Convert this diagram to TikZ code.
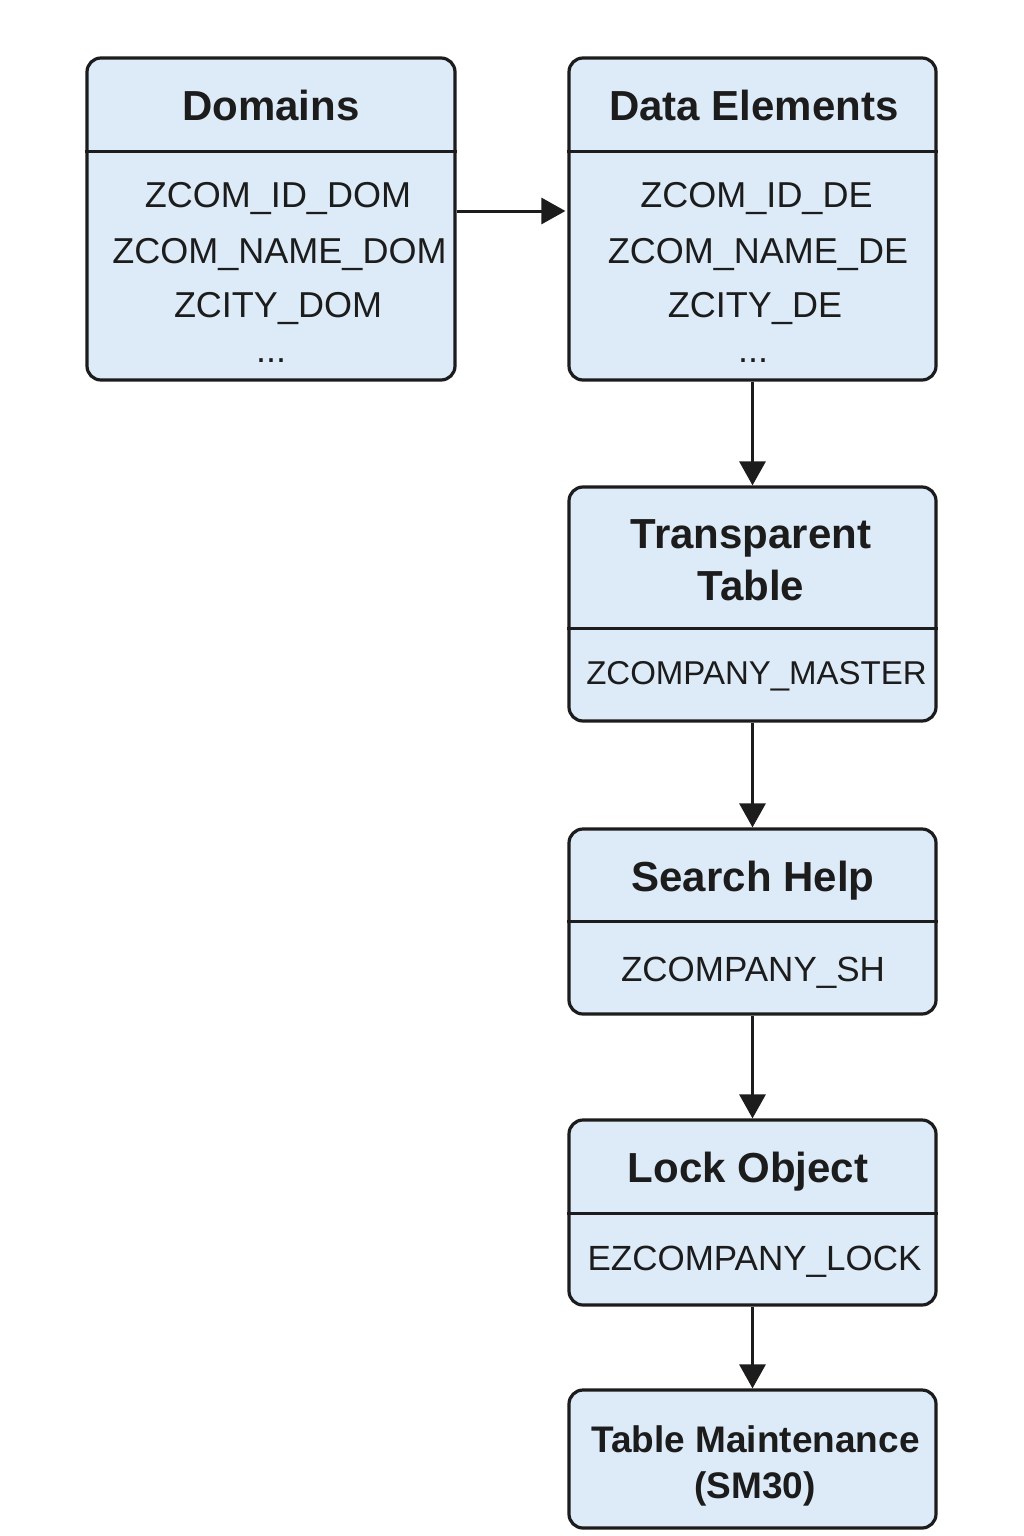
\documentclass[tikz,border=0pt]{standalone}
\usepackage{fontspec}
\setmainfont{Liberation Sans}
\usetikzlibrary{arrows.meta}
\definecolor{boxfill}{HTML}{DDEBF8}
\definecolor{ink}{HTML}{1C1C1C}
\tikzset{
  box/.style={draw=ink, fill=boxfill, line width=3.2pt, rounded corners=14pt, inner sep=0pt},
  divline/.style={draw=ink, line width=3pt},
  ttl/.style={anchor=base, inner sep=0pt, text=ink, font=\fontsize{42}{50}\selectfont\bfseries},
  ttlsm/.style={anchor=base, inner sep=0pt, text=ink, font=\fontsize{37}{44}\selectfont\bfseries},
  itm/.style={anchor=base, inner sep=0pt, text=ink, font=\fontsize{36}{43}\selectfont},
  itmsm/.style={anchor=base, inner sep=0pt, text=ink, font=\fontsize{33}{40}\selectfont},
  itmmd/.style={anchor=base, inner sep=0pt, text=ink, font=\fontsize{35}{42}\selectfont},
  arr/.style={draw=ink, line width=3pt, -{Triangle[length=24pt,width=26pt]}}
}
\begin{document}
\begin{tikzpicture}[x=1pt,y=-1pt]
\useasboundingbox[fill=white] (0,0) rectangle (1024,1536);
% boxes
\node[box, minimum width=368pt, minimum height=322pt] (dom) at (271,219) {};
\node[box, minimum width=367pt, minimum height=322pt] (de) at (752.5,219) {};
\node[box, minimum width=367pt, minimum height=234pt] (tt) at (752.5,604) {};
\node[box, minimum width=367pt, minimum height=185pt] (sh) at (752.5,921.5) {};
\node[box, minimum width=367pt, minimum height=185pt] (lo) at (752.5,1212.5) {};
\node[box, minimum width=367pt, minimum height=138pt] (tm) at (752.5,1459) {};
% dividers
\coordinate (d1) at (0,151);
\coordinate (d2) at (0,628);
\coordinate (d3) at (0,921);
\coordinate (d4) at (0,1213);
\draw[divline] (dom.west |- d1) -- (dom.east |- d1);
\draw[divline] (de.west |- d1) -- (de.east |- d1);
\draw[divline] (tt.west |- d2) -- (tt.east |- d2);
\draw[divline] (sh.west |- d3) -- (sh.east |- d3);
\draw[divline] (lo.west |- d4) -- (lo.east |- d4);
% Domains
\node[ttl] (domt) at (271,121) {Domains};
\node[itm] (dom1) at (278,207) {ZCOM\_ID\_DOM};
\node[itm] (dom2) at (279.5,263) {ZCOM\_NAME\_DOM};
\node[itm] (dom3) at (278,317) {ZCITY\_DOM};
\node[itm] (dom4) at (271,362) {...};
% Data Elements
\node[ttl] (det) at (754,121) {Data Elements};
\node[itm] (de1) at (756.5,207) {ZCOM\_ID\_DE};
\node[itm] (de2) at (758,263) {ZCOM\_NAME\_DE};
\node[itm] (de3) at (755,317) {ZCITY\_DE};
\node[itm] (de4) at (753,362) {...};
% Transparent Table
\node[ttl] (ttt1) at (751,548) {Transparent};
\node[ttl] (ttt2) at (751,600) {Table};
\node[itmsm] (tt1) at (756.5,684) {ZCOMPANY\_MASTER};
% Search Help
\node[ttl] (sht) at (753,891) {Search Help};
\node[itmmd] (sh1) at (753,981) {ZCOMPANY\_SH};
% Lock Object
\node[ttl] (lot) at (748,1182) {Lock Object};
\node[itmmd] (lo1) at (754.5,1270) {EZCOMPANY\_LOCK};
% Table Maintenance
\node[ttlsm] (tmt1) at (755.5,1452) {Table Maintenance};
\node[ttlsm] (tmt2) at (755,1498) {(SM30)};
% arrows
\coordinate (ay) at (0,211);
\draw[arr] (dom.east |- ay) -- ([xshift=-2pt]de.west |- ay);
\draw[arr] (de.south) -- (tt.north);
\draw[arr] (tt.south) -- (sh.north);
\draw[arr] (sh.south) -- (lo.north);
\draw[arr] (lo.south) -- (tm.north);
\end{tikzpicture}
\end{document}
